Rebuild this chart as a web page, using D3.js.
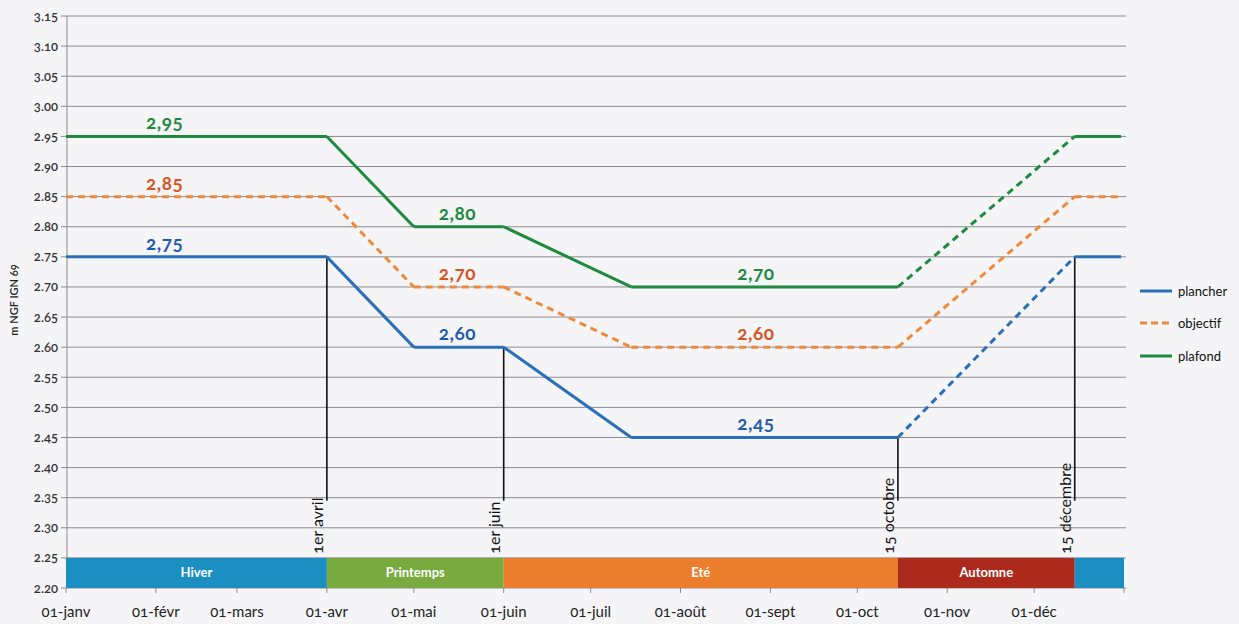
<!DOCTYPE html>
<html>
<head>
<meta charset="utf-8">
<script src="https://cdn.jsdelivr.net/npm/d3@7"></script>
<style>
body { margin: 0; background: #f5f5f7; }
svg { display: block; font-family: Lato, "Open Sans", sans-serif; font-variant-numeric: oldstyle-nums; }
</style>
</head>
<body>
<div id="vis"></div>
<script>
// Data
const keyDates = ['2023-01-01','2023-04-01','2023-05-01','2023-06-01','2023-07-15','2023-10-15','2023-12-15','2023-12-31']
const plancher = [2.75, 2.75, 2.60, 2.60, 2.45, 2.45, 2.75, 2.75]
const objectif = [2.85, 2.85, 2.70, 2.70, 2.60, 2.60, 2.85, 2.85]
const plafond  = [2.95, 2.95, 2.80, 2.80, 2.70, 2.70, 2.95, 2.95]
const dashedSegment = 5   // segment from 15 oct to 15 dec is dashed

const labelDates = ['2023-02-04','2023-05-16','2023-08-27']
const labelIndex = [0, 2, 4]

const seasonNames  = ['Hiver','Printemps','Eté','Automne','']
const seasonStarts = ['2023-01-01','2023-04-01','2023-06-01','2023-10-15','2023-12-15']
const seasonEnds   = ['2023-04-01','2023-06-01','2023-10-15','2023-12-15','2024-01-01']
const seasonColors = ['#1b8fc2','#79aa40','#ec7d2d','#ab2a1c','#1b8fc2']

const annotDates = ['2023-04-01','2023-06-01','2023-10-15','2023-12-15']
const annotTexts = ['1er avril','1er juin','15 octobre','15 décembre']
const annotIndex = [1, 3, 5, 6]

const monthNames = ['janv','févr','mars','avr','mai','juin','juil','août','sept','oct','nov','déc']
const yTicks = d3.range(2.20, 3.151, 0.05)

const series = [
    {name: 'plancher', values: plancher, color: '#2a6fba', label: '#1f5cad', dashAll: false},
    {name: 'objectif', values: objectif, color: '#ee8a3c', label: '#d9541e', dashAll: true},
    {name: 'plafond',  values: plafond,  color: '#1d8a3e', label: '#1d8a3e', dashAll: false}
]

const margin = {left: 66, top: 16}
const W = 1239, H = 624
const parse = d3.timeParse('%Y-%m-%d')

const x = d3.scaleTime()
    .domain([parse('2023-01-01'), parse('2024-01-01')])
    .range([margin.left, 1124])
const y = d3.scaleLinear()
    .domain([2.20, 3.15])
    .range([588, margin.top])

const svg = d3.select('#vis').append('svg')
    .attr('width', W)
    .attr('height', H)

// gridlines
svg.append('g').selectAll('line')
    .data(yTicks)
    .join('line')
        .attr('x1', margin.left - 5)
        .attr('x2', 1126)
        .attr('y1', d => y(d))
        .attr('y2', d => y(d))
        .attr('stroke', '#8c8c90')
        .attr('stroke-width', 1)

// y axis line + labels
svg.append('line')
    .attr('x1', margin.left + 1).attr('x2', margin.left + 1)
    .attr('y1', y(3.15)).attr('y2', y(2.20))
    .attr('stroke', '#8c8c90')

svg.append('g').selectAll('text')
    .data(yTicks)
    .join('text')
        .attr('x', margin.left - 8)
        .attr('y', d => y(d))
        .attr('dy', '0.35em')
        .attr('text-anchor', 'end')
        .attr('font-size', 13)
        .attr('font-weight', 600)
        .attr('fill', '#333')
        .text(d => d3.format('.2f')(d))

svg.append('text')
    .attr('transform', `translate(18, 300) rotate(-90)`)
    .attr('text-anchor', 'middle')
    .attr('font-size', 11)
    .attr('font-weight', 600)
    .attr('fill', '#222')
    .text('m NGF IGN 69')

// season band
const seasons = seasonNames.map((n, i) => ({name: n, start: parse(seasonStarts[i]), end: parse(seasonEnds[i]), color: seasonColors[i]}))
svg.append('g').selectAll('rect')
    .data(seasons)
    .join('rect')
        .attr('x', d => x(d.start))
        .attr('width', d => x(d.end) - x(d.start))
        .attr('y', y(2.25))
        .attr('height', y(2.20) - y(2.25))
        .attr('fill', d => d.color)
svg.append('g').selectAll('text')
    .data(seasons)
    .join('text')
        .attr('x', d => (x(d.start) + x(d.end)) / 2)
        .attr('y', (y(2.25) + y(2.20)) / 2)
        .attr('dy', '0.35em')
        .attr('text-anchor', 'middle')
        .attr('font-size', 13)
        .attr('font-weight', 700)
        .attr('fill', '#fff')
        .text(d => d.name)

// x axis ticks + labels
const months = d3.timeMonth.range(parse('2023-01-01'), parse('2024-01-01'))
svg.append('g').selectAll('line')
    .data(months.concat([parse('2024-01-01')]))
    .join('line')
        .attr('x1', d => x(d)).attr('x2', d => x(d))
        .attr('y1', y(2.20)).attr('y2', y(2.20) + 5)
        .attr('stroke', '#8c8c90')
svg.append('g').selectAll('text')
    .data(months)
    .join('text')
        .attr('x', d => x(d))
        .attr('y', 612)
        .attr('dy', '0.35em')
        .attr('text-anchor', 'middle')
        .attr('font-size', 15)
        .attr('fill', '#222')
        .text(d => '01-' + monthNames[d.getMonth()])

// annotation lines
annotDates.forEach((d, i) => {
    const xx = x(parse(d))
    svg.append('line')
        .attr('x1', xx).attr('x2', xx)
        .attr('y1', y(plancher[annotIndex[i]]))
        .attr('y2', y(2.345))
        .attr('stroke', '#111')
        .attr('stroke-width', 1.6)
    svg.append('text')
        .attr('transform', `translate(${xx - 4}, ${y(2.257)}) rotate(-90)`)
        .attr('font-size', 16)
        .attr('fill', '#111')
        .text(annotTexts[i])
})

// series lines, segment by segment
const pts = keyDates.map(parse)
series.forEach(s => {
    for (let i = 0; i < pts.length - 1; i++) {
        const dashed = s.dashAll || i === dashedSegment
        svg.append('line')
            .attr('x1', x(pts[i])).attr('y1', y(s.values[i]))
            .attr('x2', x(pts[i + 1])).attr('y2', y(s.values[i + 1]))
            .attr('stroke', s.color)
            .attr('stroke-width', 3)
            .attr('stroke-dasharray', dashed ? '7,5' : null)
    }
    labelIndex.forEach((li, j) => {
        svg.append('text')
            .attr('x', x(parse(labelDates[j])))
            .attr('y', y(s.values[li]) - 7)
            .attr('text-anchor', 'middle')
            .attr('font-size', 19)
            .attr('font-weight', 700)
            .attr('letter-spacing', 0.5)
            .attr('fill', s.label)
            .text(d3.format('.2f')(s.values[li]).replace('.', ','))
    })
})

// legend
const legendY = [291, 323, 356]
series.forEach((s, i) => {
    svg.append('line')
        .attr('x1', 1140).attr('x2', 1172)
        .attr('y1', legendY[i]).attr('y2', legendY[i])
        .attr('stroke', s.color)
        .attr('stroke-width', 3)
        .attr('stroke-dasharray', s.dashAll ? '7,4' : null)
    svg.append('text')
        .attr('x', 1178)
        .attr('y', legendY[i])
        .attr('dy', '0.35em')
        .attr('font-size', 13)
        .attr('fill', '#111')
        .text(s.name)
})
</script>
</body>
</html>
